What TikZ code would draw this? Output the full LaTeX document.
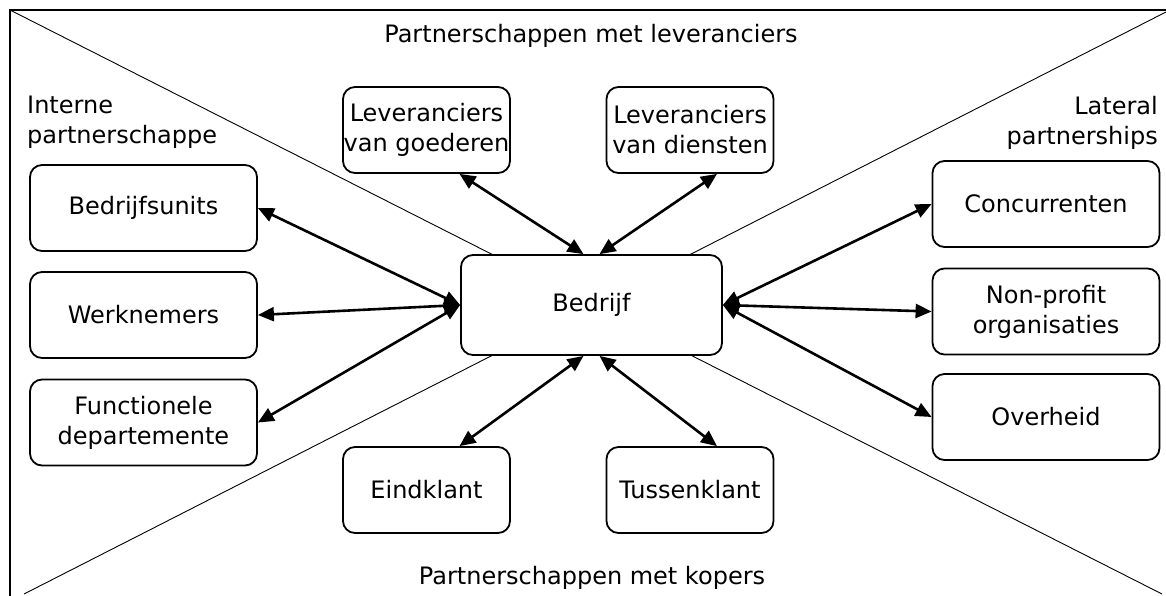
\documentclass[tikz,border=0pt]{standalone}
\usepackage{fontspec}
\setmainfont{DejaVu Sans}
\usetikzlibrary{arrows.meta}
\begin{document}
\begin{tikzpicture}[x=1pt,y=-1pt,
  box/.style={draw,line width=1.8pt,rounded corners=12pt,fill=white,align=center,
    font=\fontsize{24}{30}\selectfont,inner sep=0pt},
  sbox/.style={box,minimum width=167pt,minimum height=86pt},
  wbox/.style={box,minimum width=227pt,minimum height=86pt},
  lbl/.style={font=\fontsize{24}{30}\selectfont,inner sep=0pt},
  link/.style={line width=2.6pt,{Triangle[length=16pt,width=14pt]}-{Triangle[length=16pt,width=14pt]}},
  diag/.style={line width=0.9pt}]
\useasboundingbox (0,0) rectangle (1166,595);
\clip (0,0) rectangle (1166,595);
\fill[white] (0,0) rectangle (1166,595);
% frame and diagonals
\draw[line width=1.8pt] (10,610) -- (10,10) -- (1180,10);
\draw[diag] (10,10) -- (1162,594);
\draw[diag] (24,594) -- (1166,12);
% texts
\node[lbl,anchor=base] (tlbl) at (591,42) {Partnerschappen met leveranciers};
\node[lbl,anchor=base] (blbl) at (592,584) {Partnerschappen met kopers};
\node[lbl,anchor=north west,align=left] (llbl) at (27,96) {Interne\\partnerschappe};
\node[lbl,anchor=north east,align=right] (rlbl) at (1158,96) {Lateral\\partnerships};
% boxes
\node[box,minimum width=261pt,minimum height=100pt] (bedrijf) at (591.5,305) {Bedrijf};
\node[sbox] (goed) at (426.5,130) {Leveranciers\\van goederen};
\node[sbox] (dien) at (690,130) {Leveranciers\\van diensten};
\node[wbox] (bu) at (143.5,208) {Bedrijfsunits};
\node[wbox] (wn) at (143.5,315) {Werknemers};
\node[wbox] (fd) at (143.5,422.5) {Functionele\\departemente};
\node[wbox] (conc) at (1046,204) {Concurrenten};
\node[wbox] (npo) at (1046,311.5) {Non-profit\\organisaties};
\node[wbox] (ovh) at (1046,417) {Overheid};
\node[sbox] (eind) at (426.5,490) {Eindklant};
\node[sbox] (tus) at (690,490) {Tussenklant};
% connectors
\draw[link] ([xshift=-8pt]bedrijf.north) -- ([xshift=33pt]goed.south);
\draw[link] ([xshift=8pt]bedrijf.north) -- ([xshift=27pt]dien.south);
\draw[link] ([xshift=-8pt]bedrijf.south) -- ([xshift=33pt]eind.north);
\draw[link] ([xshift=8pt]bedrijf.south) -- ([xshift=27pt]tus.north);
\draw[link] (bedrijf.west) -- (bu.east);
\draw[link] (bedrijf.west) -- (wn.east);
\draw[link] (bedrijf.west) -- (fd.east);
\draw[link] (bedrijf.east) -- (conc.west);
\draw[link] (bedrijf.east) -- (npo.west);
\draw[link] (bedrijf.east) -- (ovh.west);
\end{tikzpicture}
\end{document}
